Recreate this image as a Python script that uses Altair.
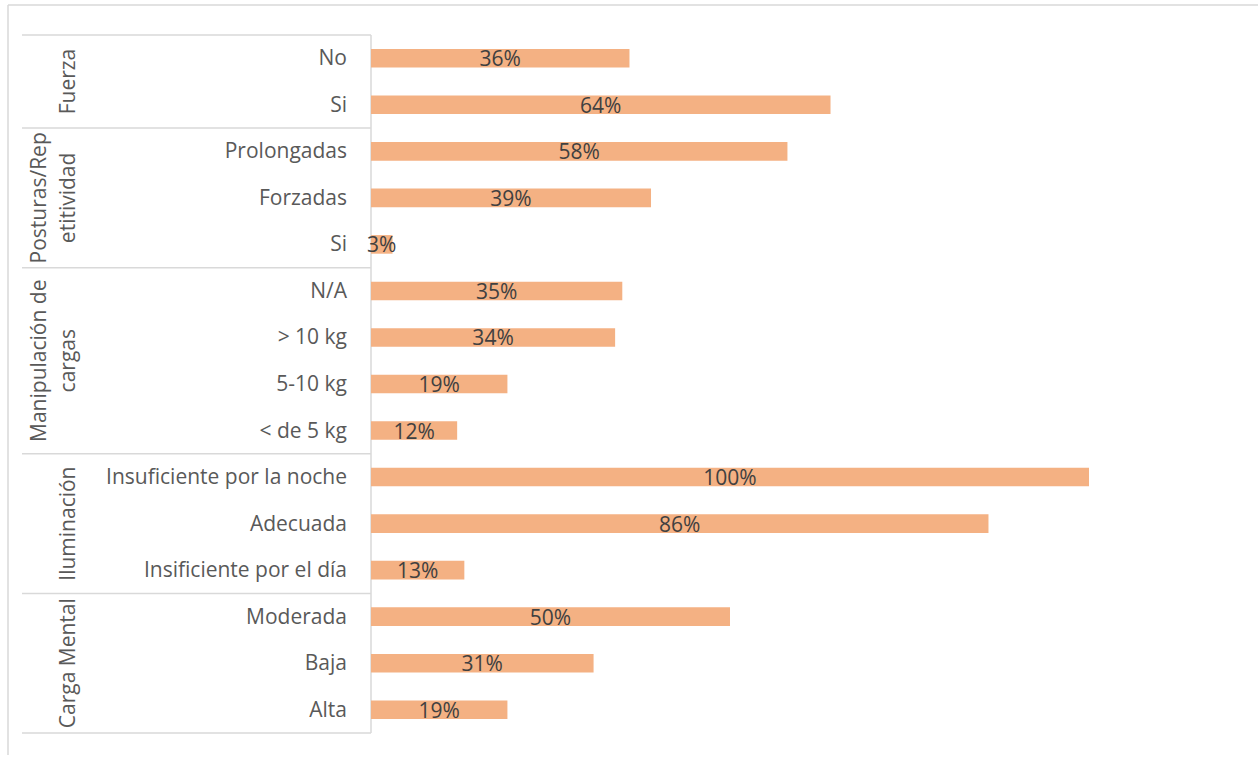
import altair as alt
import pandas as pd

# ---- data ----
items = ["No", "Si", "Prolongadas", "Forzadas", "Si", "N/A", "> 10 kg", "5-10 kg",
         "< de 5 kg", "Insuficiente por la noche", "Adecuada", "Insificiente por el día",
         "Moderada", "Baja", "Alta"]
values = [0.36, 0.64, 0.58, 0.39, 0.03, 0.35, 0.34, 0.19, 0.12, 1.00, 0.86, 0.13,
          0.50, 0.31, 0.19]
group_names = ["Fuerza", "Posturas/Repetitividad", "Manipulación de cargas",
               "Iluminación", "Carga Mental"]
group_lines = [["Fuerza"], ["Posturas/Rep", "etitividad"], ["Manipulación de", "cargas"],
               ["Iluminación"], ["Carga Mental"]]
group_sizes = [2, 3, 4, 3, 3]

rows = list(range(len(items)))
df = pd.DataFrame({"row": rows, "item": items, "value": values,
                   "label": [f"{round(v*100)}%" for v in values]})

starts = []
s = 0
for n in group_sizes:
    starts.append(s)
    s += n
gdf = pd.DataFrame({"group": group_names, "start": starts, "size": group_sizes,
                    "lines": group_lines,
                    "nlines": [len(l) for l in group_lines]})
gdf["end"] = gdf["start"] + gdf["size"]
bounds = pd.DataFrame({"b": starts + [s]})
dummy = pd.DataFrame({"d": [0]})

FONT = "Open Sans"
FS = 21
GRAY = "#595959"
LINE = "#D9D9D9"

yscale = alt.Scale(domain=[0, len(items)], reverse=True, nice=False, zero=False)
xscale = alt.Scale(domain=[0, 1], nice=False)

base = alt.Chart(df)

bars = base.transform_calculate(
    r0="datum.row + 0.3", r1="datum.row + 0.7"
).mark_bar(color="#F4B183").encode(
    x=alt.X("value:Q", scale=xscale, axis=None),
    x2=alt.datum(0),
    y=alt.Y("r0:Q", scale=yscale, axis=None),
    y2="r1:Q",
)

bar_text = base.transform_calculate(
    mid="datum.row + 0.5", half="datum.value / 2"
).mark_text(font=FONT, fontSize=FS, color="#404040", align="center",
            baseline="middle", dy=2).encode(
    x=alt.X("half:Q", scale=xscale, axis=None),
    y=alt.Y("mid:Q", scale=yscale, axis=None),
    text="label:N",
)

item_text = base.transform_calculate(
    mid="datum.row + 0.5"
).mark_text(font=FONT, fontSize=FS, color=GRAY, align="right",
            baseline="middle", dy=1).encode(
    x=alt.value(-24),
    y=alt.Y("mid:Q", scale=yscale, axis=None),
    text="item:N",
)

gbase = alt.Chart(gdf).transform_calculate(
    mid="(datum.start + datum.end) / 2"
)
group_text1 = gbase.transform_filter("datum.nlines == 1").mark_text(
    font=FONT, fontSize=FS, color=GRAY, align="center",
    baseline="bottom", angle=270, lineHeight=29).encode(
    x=alt.value(-292),
    y=alt.Y("mid:Q", scale=yscale, axis=None),
    text="lines",
)
group_text2 = gbase.transform_filter("datum.nlines == 2").mark_text(
    font=FONT, fontSize=FS, color=GRAY, align="center",
    baseline="bottom", angle=270, lineHeight=29).encode(
    x=alt.value(-321),
    y=alt.Y("mid:Q", scale=yscale, axis=None),
    text="lines",
)

sep = alt.Chart(bounds).mark_rule(color=LINE, strokeWidth=1.5).encode(
    x=alt.value(-349), x2=alt.value(0),
    y=alt.Y("b:Q", scale=yscale, axis=None),
)

vline = alt.Chart(dummy).mark_rule(color=LINE, strokeWidth=1.5).encode(
    x=alt.value(0), y=alt.value(0), y2=alt.value(698),
)

frame_top = alt.Chart(dummy).mark_rule(color=LINE, strokeWidth=1.5).encode(
    x=alt.value(-363), x2=alt.value(887), y=alt.value(-30),
)
frame_left = alt.Chart(dummy).mark_rule(color=LINE, strokeWidth=1.5).encode(
    x=alt.value(-363), y=alt.value(-30), y2=alt.value(730),
)

chart = alt.layer(frame_top, frame_left, sep, vline, bars, bar_text, item_text,
                  group_text1, group_text2).properties(
    width=718, height=698,
    autosize=alt.AutoSizeParams(type="none"),
    padding={"left": 371, "top": 35, "right": 169, "bottom": 22},
).configure_view(stroke=None)

chart.save("out.html", embed_options={"renderer": "svg", "actions": False})
